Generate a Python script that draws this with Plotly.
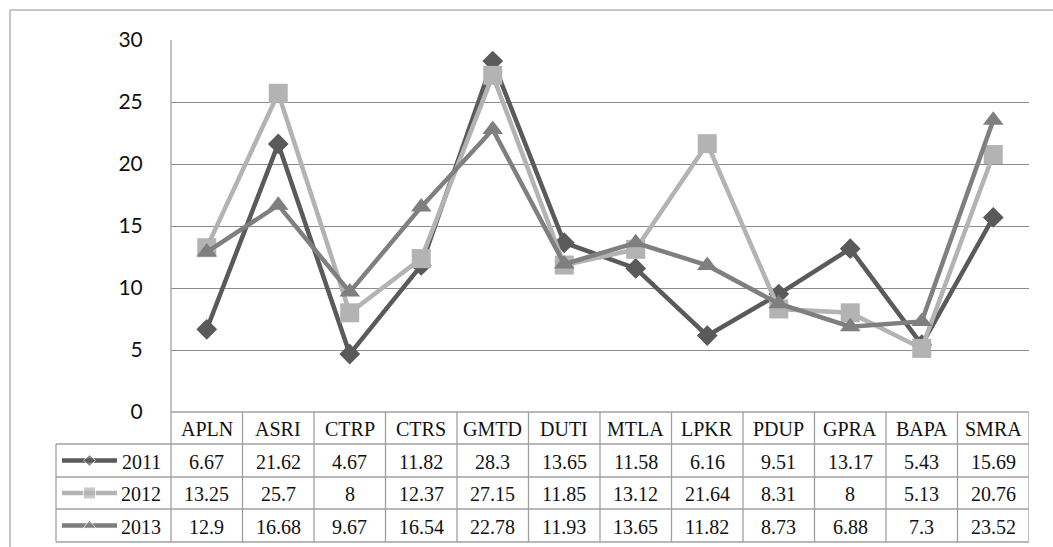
import plotly.graph_objects as go

categories = ["APLN", "ASRI", "CTRP", "CTRS", "GMTD", "DUTI", "MTLA", "LPKR", "PDUP", "GPRA", "BAPA", "SMRA"]
years = ["2011", "2012", "2013"]
v2011 = [6.67, 21.62, 4.67, 11.82, 28.3, 13.65, 11.58, 6.16, 9.51, 13.17, 5.43, 15.69]
v2012 = [13.25, 25.7, 8, 12.37, 27.15, 11.85, 13.12, 21.64, 8.31, 8, 5.13, 20.76]
v2013 = [12.9, 16.68, 9.67, 16.54, 22.78, 11.93, 13.65, 11.82, 8.73, 6.88, 7.3, 23.52]
y_ticks = [0, 5, 10, 15, 20, 25, 30]

series = [v2011, v2012, v2013]
colors = ["#5A5A5A", "#B3B3B3", "#7F7F7F"]
symbols = ["diamond", "square", "triangle-up"]
msizes = [16, 19, 18]
lsizes = [9, 12, 11]

W, H = 1053, 547
def py(y):
    return 1 - y / H
def px(x):
    return x / W

X_LEFT, X_RIGHT = 171, 1029
Y_TOP, Y_AXIS = 40, 412
ROW_LINES = [444, 477, 509, 542]
LEG_LEFT = 56
GRID = "#8C8C8C"
TABLE = "#A0A0A0"
SERIF = "'Times New Roman', 'Liberation Serif', 'DejaVu Serif', serif"

fig = go.Figure()
n = len(categories)
xs = list(range(n))
for name, vals, c, s, ms in zip(years, series, colors, symbols, msizes):
    fig.add_trace(go.Scatter(
        x=xs, y=vals, name=name, mode="lines+markers",
        line=dict(color=c, width=4.5),
        marker=dict(symbol=s, size=ms, color=c),
        xaxis="x", yaxis="y", showlegend=False, hoverinfo="skip"))

# legend samples in table (pixel axis covering the whole figure)
for i, (name, c, s, ls) in enumerate(zip(years, colors, symbols, lsizes)):
    yc = (ROW_LINES[i] + ROW_LINES[i + 1]) / 2
    fig.add_trace(go.Scatter(
        x=[62, 89.5, 117], y=[yc, yc, yc], mode="lines+markers",
        line=dict(color=c, width=4.5),
        marker=dict(symbol=s, size=[0, ls, 0], color=c),
        xaxis="x2", yaxis="y2", showlegend=False, hoverinfo="skip"))

shapes = []
shapes.append(dict(type="line", xref="paper", yref="paper", x0=px(10), x1=1.0, y0=py(10), y1=py(10),
                   line=dict(color=GRID, width=1)))
shapes.append(dict(type="line", xref="paper", yref="paper", x0=px(10), x1=px(10), y0=py(10), y1=0,
                   line=dict(color=GRID, width=1)))
shapes.append(dict(type="line", xref="paper", yref="paper", x0=px(X_LEFT), x1=px(X_LEFT), y0=py(Y_TOP), y1=py(ROW_LINES[-1]),
                   line=dict(color=TABLE, width=1.3)))
shapes.append(dict(type="line", xref="x", yref="paper", x0=-0.5, x1=n - 0.5, y0=py(Y_AXIS), y1=py(Y_AXIS),
                   line=dict(color=TABLE, width=1.3)))
for yl in ROW_LINES:
    shapes.append(dict(type="line", xref="paper", yref="paper", x0=px(LEG_LEFT), x1=px(X_RIGHT), y0=py(yl), y1=py(yl),
                       line=dict(color=TABLE, width=1.3)))
shapes.append(dict(type="line", xref="paper", yref="paper", x0=px(LEG_LEFT), x1=px(LEG_LEFT), y0=py(ROW_LINES[0]), y1=py(ROW_LINES[-1]),
                   line=dict(color=TABLE, width=1.3)))
for i in range(1, n + 1):
    shapes.append(dict(type="line", xref="x", yref="paper", x0=i - 0.5, x1=i - 0.5, y0=py(Y_AXIS), y1=py(ROW_LINES[-1]),
                       line=dict(color=TABLE, width=1.3)))

ann = []
tfont = dict(family=SERIF, size=20, color="#111111")
hy = (Y_AXIS + ROW_LINES[0]) / 2 + 1
for i, cat in enumerate(categories):
    ann.append(dict(x=i, y=py(hy), xref="x", yref="paper", text=cat, showarrow=False, font=tfont,
                    xanchor="center", yanchor="middle"))
for r, (name, vals) in enumerate(zip(years, series)):
    yc = (ROW_LINES[r] + ROW_LINES[r + 1]) / 2 + 1
    ann.append(dict(x=px(163), y=py(yc), xref="paper", yref="paper", text=name, showarrow=False, font=tfont,
                    xanchor="right", yanchor="middle"))
    for i, v in enumerate(vals):
        ann.append(dict(x=i, y=py(yc), xref="x", yref="paper", text=f"{v:g}", showarrow=False, font=tfont,
                        xanchor="center", yanchor="middle"))

fig.update_layout(
    width=W, height=H, autosize=False,
    font=dict(family=SERIF, size=20, color="#111111"),
    margin=dict(l=0, r=0, t=0, b=0, pad=0, autoexpand=False),
    paper_bgcolor="white", plot_bgcolor="rgba(0,0,0,0)",
    xaxis=dict(domain=[px(X_LEFT), px(X_RIGHT)], range=[-0.5, n - 0.5], showticklabels=False,
               showgrid=False, zeroline=False, showline=False, automargin=False, anchor="y"),
    yaxis=dict(domain=[py(Y_AXIS), py(Y_TOP)], range=[0, 30], tickvals=y_ticks,
               showgrid=True, gridcolor=GRID, gridwidth=1.3, zeroline=False, showline=False,
               ticks="outside", ticklen=23, tickcolor="rgba(0,0,0,0)", automargin=False, anchor="x",
               tickfont=dict(family="Lato, 'Open Sans', sans-serif", size=21, color="#111111")),
    xaxis2=dict(domain=[0, 1], range=[0, W], visible=False, anchor="y2", automargin=False),
    yaxis2=dict(domain=[0, 1], range=[H, 0], visible=False, anchor="x2", automargin=False),
    shapes=shapes, annotations=ann,
)

fig.write_html("out.html", config={"displayModeBar": False},
               post_script="document.body.style.margin='0';document.body.style.padding='0';"
                           "document.documentElement.style.overflow='hidden';")
